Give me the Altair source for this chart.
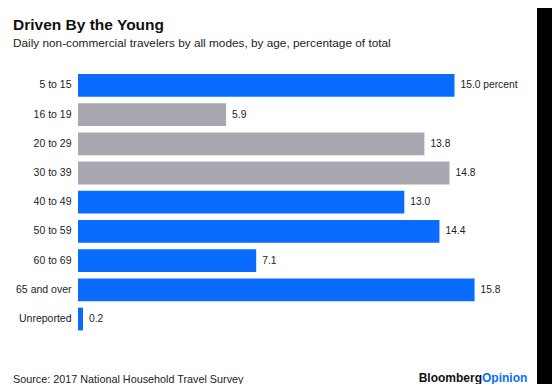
import altair as alt
import pandas as pd

# ---- data ----
ages = ["5 to 15", "16 to 19", "20 to 29", "30 to 39", "40 to 49",
        "50 to 59", "60 to 69", "65 and over", "Unreported"]
shares = [15.0, 5.9, 13.8, 14.8, 13.0, 14.4, 7.1, 15.8, 0.2]
labels = ["15.0 percent", "5.9", "13.8", "14.8", "13.0", "14.4", "7.1", "15.8", "0.2"]
groups = ["hi", "lo", "lo", "lo", "hi", "hi", "hi", "hi", "hi"]

BLUE = "#0a6cff"
GRAY = "#a9a8b0"
FONT = "Liberation Sans"

df = pd.DataFrame({"age": ages, "share": shares, "label": labels, "group": groups})

W = 401.6
H = 262.8

y_enc = alt.Y("age:N", sort=ages,
              scale=alt.Scale(paddingInner=0.22, paddingOuter=0.11),
              axis=alt.Axis(title=None, domain=False, ticks=False, labelPadding=7,
                            labelFontSize=10.5, labelColor="#222222", labelFont=FONT))
x_enc = alt.X("share:Q", scale=alt.Scale(domain=[0, 16], nice=False), axis=None)

bars = alt.Chart(df).mark_bar().encode(
    x=x_enc,
    y=y_enc,
    color=alt.Color("group:N", scale=alt.Scale(domain=["hi", "lo"], range=[BLUE, GRAY]), legend=None),
)

text = alt.Chart(df).mark_text(align="left", baseline="middle", dx=6, fontSize=10.25,
                               font=FONT, color="#222222").encode(
    x=x_enc, y=y_enc, text="label:N")

source_df = pd.DataFrame({"t": ["Source: 2017 National Household Travel Survey"]})
source = alt.Chart(source_df).mark_text(align="left", baseline="alphabetic", fontSize=10.8,
                                        font=FONT, color="#222222").encode(
    x=alt.value(-65), y=alt.value(312), text="t:N")

b_df = pd.DataFrame({"t": ["Bloomberg"]})
logo_b = alt.Chart(b_df).mark_text(align="right", baseline="alphabetic", fontSize=12,
                                   font=FONT, fontWeight="bold", color="#111111").encode(
    x=alt.value(404), y=alt.value(311.5), text="t:N")
o_df = pd.DataFrame({"t": ["Opinion"]})
logo_o = alt.Chart(o_df).mark_text(align="left", baseline="alphabetic", fontSize=12,
                                   font=FONT, fontWeight="bold", color=BLUE).encode(
    x=alt.value(404), y=alt.value(311.5), text="t:N")

strip = alt.Chart(pd.DataFrame({"k": [0]})).mark_rect(color="black").encode(
    x=alt.value(459), x2=alt.value(474), y=alt.value(-62.8), y2=alt.value(313.2))

chart = alt.layer(bars, text, source, logo_b, logo_o, strip).properties(
    width=W, height=H,
    autosize=alt.AutoSizeParams(type="none"),
    padding={"left": 70, "top": 62.8, "right": 72.4, "bottom": 50.4},
    title=alt.Title(
        "Driven By the Young",
        subtitle="Daily non-commercial travelers by all modes, by age, percentage of total",
        anchor="start", frame="group", dx=-65, dy=57.8, offset=16,
        font=FONT, fontSize=15.5, fontWeight="bold", color="#111111",
        subtitleFont=FONT, subtitleFontSize=11.8, subtitleColor="#222222",
        subtitlePadding=5,
    ),
).configure(background="white").configure_view(stroke=None)

chart.save("out.html", embed_options={"renderer": "svg", "actions": False})
